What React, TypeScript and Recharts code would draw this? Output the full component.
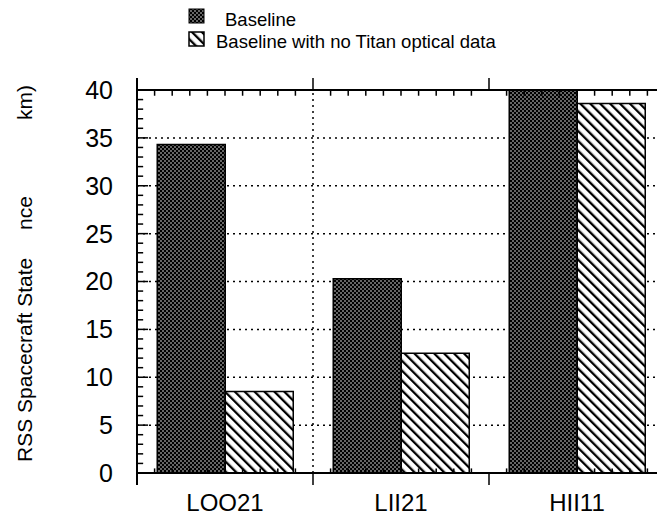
import { BarChart, Bar, XAxis, YAxis, CartesianGrid, ReferenceLine } from "recharts";

const FONT = "'Liberation Sans', Arial, Helvetica, sans-serif";

const categories = ["LOO21", "LII21", "HII11"];
const seriesNames = ["Baseline", "Baseline with no Titan optical data"];
const baseline = [34.3, 20.3, 40];
const noTitanOptical = [8.5, 12.5, 38.6];
const yMajorTicks = [0, 5, 10, 15, 20, 25, 30, 35, 40];
const yGridValues = [5, 10, 15, 20, 25, 30, 35];

// minor ticks: each unit on y, each tenth of a category band along the frame
const yMinorTicks = Array.from({ length: 39 }, (_, i) => i + 1).filter((v) => v % 5 !== 0);
const bandBounds = [0, 1, 2, 3];
const bandMinorTicks = Array.from({ length: 30 }, (_, i) => i / 10).filter((v) => Math.round(v * 10) % 10 !== 0);

// the hidden numeric axis spans the category indices (0..n-1) over the full plot width,
// so convert "band" units (0..n) to it
const n = categories.length;
const toFrame = (u: number) => (u * (n - 1)) / n;

// tick lengths: x in band units, y in data units
const Y_MAJOR_LEN = 0.063;
const Y_MINOR_LEN = 0.035;
const X_MINOR_LEN = 0.6;
const OUT_LEN = 1.25;

const data = categories.map((name, i) => ({
  name,
  baseline: baseline[i],
  noOptical: noTitanOptical[i],
}));

const ink = { stroke: "#000", strokeWidth: 1.5 };

export default function App() {
  return (
    <div
      style={{
        position: "absolute",
        left: 0,
        top: 0,
        width: 657,
        height: 521,
        overflow: "hidden",
        background: "#fff",
        fontFamily: FONT,
      }}
    >
      {/* fill patterns, referenced by url(#...) */}
      <svg width={0} height={0} style={{ position: "absolute" }}>
        <defs>
          <pattern id="dots" width={4} height={4} patternUnits="userSpaceOnUse">
            <rect width={4} height={4} fill="#000" />
            <circle cx={1} cy={1} r={0.75} fill="#fff" />
            <circle cx={3} cy={3} r={0.75} fill="#fff" />
          </pattern>
          <pattern id="hatch" width={7} height={7} patternUnits="userSpaceOnUse" patternTransform="rotate(-45)">
            <rect width={7} height={7} fill="#fff" />
            <rect width={2.3} height={7} fill="#000" />
          </pattern>
        </defs>
      </svg>

      {/* legend + y axis title */}
      <svg width={657} height={521} style={{ position: "absolute", left: 0, top: 0, pointerEvents: "none" }}>
        <rect x={189} y={9} width={15} height={14} fill="url(#dots)" stroke="#000" strokeWidth={1} />
        <text x={225} y={26} fontSize={18.5} fontFamily={FONT} fill="#000">{seriesNames[0]}</text>
        <rect x={189} y={32} width={15} height={14} fill="url(#hatch)" stroke="#000" strokeWidth={1.5} />
        <text x={216} y={48} fontSize={18.5} fontFamily={FONT} fill="#000">{seriesNames[1]}</text>

        <text transform="translate(32,462) rotate(-90)" fontSize={21} fontFamily={FONT} fill="#000">RSS Spacecraft State</text>
        <text transform="translate(32,230) rotate(-90)" fontSize={21} fontFamily={FONT} fill="#000">nce</text>
        <text transform="translate(32,120) rotate(-90)" fontSize={21} fontFamily={FONT} fill="#000">km)</text>
      </svg>

      <div style={{ position: "absolute", left: 0, top: 0 }}>
        <BarChart
          width={680}
          height={521}
          data={data}
          margin={{ top: 90, right: 15, bottom: 0, left: 0 }}
          barGap={0}
          barCategoryGap="11.5%"
        >
          <CartesianGrid
            stroke="#000"
            strokeWidth={1.5}
            strokeDasharray="2 4"
            vertical={false}
            horizontalValues={yGridValues}
          />
          <YAxis
            width={137}
            domain={[0, 40]}
            ticks={yMajorTicks}
            interval={0}
            axisLine={false}
            tickLine={false}
            tickSize={0}
            tickMargin={24}
            tick={{ fontSize: 25, fill: "#000", fontFamily: FONT }}
          />
          <XAxis xAxisId="frame" type="number" domain={[0, n - 1]} allowDataOverflow hide />
          <XAxis
            dataKey="name"
            height={48}
            axisLine={false}
            tickLine={false}
            tickSize={0}
            tickMargin={21}
            interval={0}
            tick={{ fontSize: 24, fill: "#000", fontFamily: FONT }}
          />

          <Bar dataKey="baseline" name={seriesNames[0]} fill="url(#dots)" stroke="#000" strokeWidth={1.5} isAnimationActive={false} />
          <Bar dataKey="noOptical" name={seriesNames[1]} fill="url(#hatch)" stroke="#000" strokeWidth={1.5} isAnimationActive={false} />

          {/* dotted band divider */}
          <ReferenceLine xAxisId="frame" x={toFrame(1)} stroke="#000" strokeWidth={1.5} strokeDasharray="2 4" />

          {/* frame */}
          <ReferenceLine xAxisId="frame" y={40} stroke="#000" strokeWidth={2} />
          <ReferenceLine xAxisId="frame" y={0} stroke="#000" strokeWidth={2} />
          <ReferenceLine
            xAxisId="frame"
            ifOverflow="visible"
            segment={[{ x: 0, y: -OUT_LEN }, { x: 0, y: 40 + OUT_LEN }]}
            stroke="#000"
            strokeWidth={2}
          />
          {bandBounds.slice(1).map((b) => (
            <ReferenceLine
              key={`out-${b}`}
              xAxisId="frame"
              ifOverflow="visible"
              segment={[{ x: toFrame(b), y: 40 }, { x: toFrame(b), y: 40 + OUT_LEN }]}
              {...ink}
            />
          ))}
          {bandBounds.slice(1).map((b) => (
            <ReferenceLine
              key={`outb-${b}`}
              xAxisId="frame"
              ifOverflow="visible"
              segment={[{ x: toFrame(b), y: 0 }, { x: toFrame(b), y: -OUT_LEN }]}
              {...ink}
            />
          ))}

          {/* y ticks pointing into the plot */}
          {yMajorTicks.slice(1, -1).map((v) => (
            <ReferenceLine key={`ym-${v}`} xAxisId="frame" segment={[{ x: 0, y: v }, { x: toFrame(Y_MAJOR_LEN), y: v }]} {...ink} />
          ))}
          {yMinorTicks.map((v) => (
            <ReferenceLine key={`yn-${v}`} xAxisId="frame" segment={[{ x: 0, y: v }, { x: toFrame(Y_MINOR_LEN), y: v }]} {...ink} />
          ))}

          {/* top and bottom minor ticks */}
          {bandMinorTicks.map((t) => (
            <ReferenceLine key={`tt-${t}`} xAxisId="frame" segment={[{ x: toFrame(t), y: 40 }, { x: toFrame(t), y: 40 - X_MINOR_LEN }]} {...ink} />
          ))}
          {bandMinorTicks.map((t) => (
            <ReferenceLine key={`bt-${t}`} xAxisId="frame" segment={[{ x: toFrame(t), y: 0 }, { x: toFrame(t), y: X_MINOR_LEN * 0.8 }]} {...ink} />
          ))}
        </BarChart>
      </div>
    </div>
  );
}
